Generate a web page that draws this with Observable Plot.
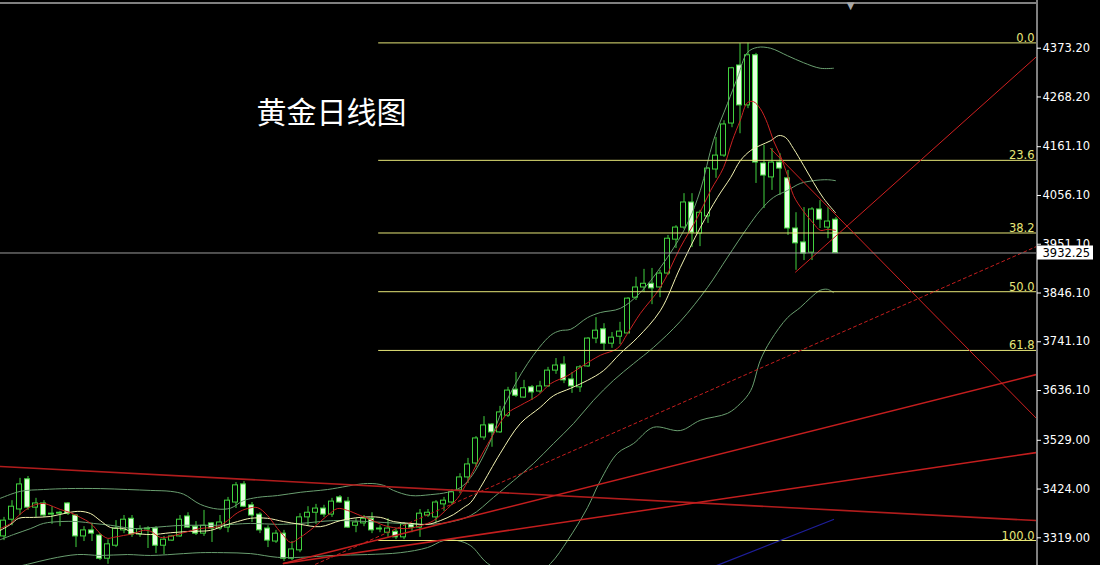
<!DOCTYPE html>
<html><head><meta charset="utf-8">
<script src="https://cdn.jsdelivr.net/npm/d3@7"></script>
<script src="https://cdn.jsdelivr.net/npm/@observablehq/plot@0.6"></script>
<style>html,body{margin:0;padding:0;background:#000;overflow:hidden}</style>
</head><body><div id="chart"></div>
<script>
// ---- daily gold candles (OHLC), oldest first ----
const opens  = [3322,3358,3380,3445,3384,3393,3369,3371,3393,3367,3322,3335,3324,3274,3302,3335,3360,3326,3337,3339,3302,3313,3322,3365,3343,3328,3350,3339,3341,3395,3434,3389,3369,3339,3311,3328,3274,3292,3363,3373,3382,3369,3406,3397,3345,3350,3360,3339,3330,3332,3320,3348,3341,3367,3363,3391,3395,3421,3449,3479,3535,3563,3546,3582,3638,3621,3643,3634,3645,3679,3692,3660,3643,3688,3748,3768,3737,3752,3759,3836,3858,3866,3858,3888,3961,3987,4041,3974,4011,4112,4142,4211,4336,4250,4358,4125,4095,4127,4093,3985,3955,3933,4026,3987,4004];
const highs  = [3363,3399,3447,3451,3404,3399,3386,3376,3395,3369,3343,3350,3328,3315,3356,3367,3367,3345,3343,3343,3322,3324,3367,3373,3354,3378,3352,3367,3406,3438,3440,3395,3373,3345,3335,3335,3311,3371,3386,3391,3389,3404,3410,3406,3360,3367,3373,3345,3360,3339,3352,3350,3380,3380,3399,3406,3423,3457,3490,3537,3580,3565,3602,3643,3675,3658,3647,3656,3686,3705,3709,3675,3690,3750,3793,3780,3761,3783,3836,3880,3897,3899,3895,3970,3991,4060,4060,4024,4116,4181,4217,4332,4383,4384,4362,4164,4157,4146,4110,4019,4030,4030,4045,4030,4009];
const lows   = [3313,3345,3367,3378,3363,3363,3348,3343,3367,3298,3311,3311,3270,3262,3298,3328,3320,3320,3296,3285,3283,3311,3320,3339,3324,3322,3309,3335,3330,3382,3384,3352,3328,3298,3307,3268,3270,3287,3345,3348,3363,3363,3393,3339,3330,3343,3328,3330,3320,3315,3315,3330,3320,3363,3352,3376,3389,3414,3436,3470,3529,3514,3544,3578,3621,3619,3615,3630,3643,3671,3651,3630,3632,3686,3737,3722,3727,3735,3759,3830,3847,3821,3836,3884,3942,3983,3944,3946,3996,4093,4138,4202,4189,4243,4082,4028,4067,4056,3970,3895,3916,3916,3985,3963,3931];
const closes = [3356,3386,3434,3384,3393,3367,3371,3373,3371,3322,3335,3328,3274,3305,3339,3358,3326,3337,3339,3302,3315,3322,3358,3341,3328,3345,3339,3352,3399,3432,3386,3367,3335,3313,3328,3274,3294,3363,3373,3382,3369,3397,3395,3341,3352,3360,3335,3337,3339,3320,3348,3341,3371,3373,3395,3399,3417,3449,3477,3533,3561,3546,3589,3636,3625,3641,3632,3645,3679,3690,3658,3645,3686,3748,3765,3737,3750,3763,3834,3858,3866,3856,3888,3963,3987,4041,3976,4019,4114,4142,4209,4330,4250,4358,4127,4099,4127,4114,3985,3953,3931,4026,4004,4000,3932];

// ---- indicator lines: [candle index, price] ----
const ma5 = [[-0.4,3339],[0.9,3350],[1.9,3367],[3,3382],[3.75,3389],[5,3393],[6.25,3386],[7.1,3380],[8.4,3373],[9.6,3363],[10.9,3350],[12.1,3328],[13,3318],[13.75,3320],[15,3324],[16.25,3328],[17.5,3335],[18.4,3333],[19.6,3320],[20.9,3322],[22.5,3330],[24.6,3339],[26.75,3343],[28,3356],[29.25,3373],[30.5,3382],[31.75,3384],[33,3367],[34.25,3339],[35,3324],[35.9,3309],[37.1,3320],[38.75,3341],[40.5,3367],[41.75,3382],[43,3378],[44.6,3367],[45.9,3358],[47.5,3346],[48.75,3341],[50.5,3339],[52.1,3345],[53.75,3356],[55.5,3382],[56.75,3404],[57.75,3432],[60.5,3520],[63,3587],[64.6,3604],[66.75,3625],[68.4,3651],[70.5,3668],[72.1,3686],[74.6,3712],[76.75,3727],[78,3759],[79.6,3802],[82.1,3858],[84.6,3944],[86.75,4009],[88.4,4067],[90,4116],[91.1,4174],[92.1,4218],[93,4256],[93.75,4258],[94.6,4243],[95.5,4211],[96.25,4174],[97.1,4142],[98,4099],[98.75,4056],[100,4022],[101.25,3996],[102.1,3981],[103,3983],[104,3981]];
const ma10 = [[-0.4,3335],[0.9,3348],[1.9,3361],[3.75,3363],[5.9,3365],[8,3373],[9.6,3376],[10.9,3371],[12.1,3356],[13.4,3341],[15,3339],[16.25,3330],[18.4,3326],[20.9,3330],[23.4,3333],[25.9,3335],[27.5,3345],[29.25,3354],[30.9,3361],[33,3361],[35,3354],[37.1,3348],[39.6,3343],[42.1,3356],[44.6,3363],[47.1,3363],[48.75,3354],[50.9,3350],[53,3348],[54.6,3356],[56.25,3369],[57.5,3384],[58.4,3395],[59.6,3427],[62.1,3501],[64.6,3565],[67.1,3600],[68.75,3625],[70.9,3641],[73,3658],[75,3679],[77.1,3716],[79.25,3750],[82.1,3808],[84.6,3901],[87.1,3987],[89.25,4052],[90.9,4095],[92.1,4131],[93.4,4153],[94.6,4164],[95.9,4174],[96.9,4185],[97.75,4181],[98.75,4157],[100,4121],[101.25,4084],[102.5,4050],[104,4019]];
const bbMid = [[-0.4,3315],[1.25,3326],[3.4,3339],[5,3350],[7.1,3354],[9.25,3354],[11.25,3350],[13.4,3346],[16.25,3339],[18.4,3341],[22.5,3346],[26.75,3346],[30.9,3350],[34.25,3348],[37.1,3350],[41.25,3356],[45.5,3354],[49.6,3350],[53,3348],[55.5,3352],[58.4,3367],[61.25,3406],[63.75,3442],[66.25,3479],[68.75,3522],[71.25,3565],[73.75,3615],[76.25,3658],[78.75,3694],[81.25,3729],[84.6,3785],[88,3858],[90.5,3923],[93,3987],[94.6,4024],[96.25,4052],[98,4067],[99.6,4082],[101.25,4088],[103,4090],[104,4088]];
const bbUp = [[-0.4,3404],[2.1,3419],[5,3423],[8,3425],[12.1,3425],[15.5,3423],[18.4,3421],[20.9,3419],[22.5,3413],[24.6,3391],[26.75,3381],[28.4,3383],[30,3399],[31.75,3406],[34.25,3410],[37.1,3417],[40.5,3423],[45.5,3436],[47.5,3432],[48.75,3421],[50.9,3410],[53.4,3412],[55.5,3417],[57.1,3427],[58.4,3449],[60.5,3513],[62.5,3600],[65.5,3694],[68.4,3755],[69.6,3765],[70.9,3768],[73,3793],[74.6,3804],[77.1,3813],[79.6,3847],[83,3923],[85.5,3996],[87.1,4067],[88.75,4175],[90.5,4254],[91.75,4310],[93,4364],[94.25,4375],[95.9,4373],[98,4357],[100,4342],[102.1,4330],[103.75,4330]];
const bbLow = [[-0.4,3249],[3,3262],[5.9,3274],[9.25,3283],[12.1,3281],[15.5,3283],[18.4,3281],[22.5,3285],[24.6,3287],[27.5,3287],[30.9,3285],[34.25,3277],[37.1,3277],[41.25,3281],[45.5,3283],[49.6,3287],[53,3298],[55,3313],[56.75,3313],[58.4,3302],[60.5,3264],[63.4,3238],[65.9,3231],[68.4,3264],[70.5,3313],[73,3384],[74.6,3442],[76.75,3501],[78.75,3522],[81.25,3557],[84.6,3550],[87.1,3572],[90.5,3587],[92.1,3608],[93.4,3636],[94.6,3701],[95.9,3744],[98,3793],[99.6,3815],[100.9,3836],[102.1,3852],[103,3854],[103.75,3847]];

// ---- drawn objects: trend lines [index, price] ----
const longTrend = [[-0.375,3472.5],[129.125,3356.2]];
const fanLow    = [[35,3263.7],[129.125,3502.6]];
const fanMid    = [[35,3263.7],[129.125,3670.6]];
const fanDash   = [[39,3262],[129.125,3946.2]];
const riseLine  = [[99,3891],[129.125,4355]];
const fallLine  = [[95.875,4157.2],[129.125,3576]];
const blueLine  = [[88.5,3255],[103.75,3358.4]];

// ---- Fibonacci retracement ----
const fibLevels = [0, 23.6, 38.2, 50.0, 61.8, 100.0];
const fibHigh = 4384.6, fibLow = 3313.2, fibStart = 46.9;

// ---- axis ----
const yTicks = [4373.20, 4268.20, 4161.10, 4056.10, 3951.10, 3846.10, 3741.10, 3636.10, 3529.00, 3424.00, 3319.00];
const lastPrice = 3932.25;
const title = "黄金日线图";

const xMax = 129.125, xMin = -0.375;
const candles = opens.map((o, i) => ({i, open: o, high: highs[i], low: lows[i], close: closes[i]}));
const fib = fibLevels.map(l => ({level: l, price: fibHigh - (fibHigh - fibLow) * l / 100}));

const GREEN = "#41d23f", PALE = "#e4ffde", BB = "#6a9f70", FIB = "#e6e678";
const ln = (data, o) => Plot.line(data, {x: d => d[0], y: d => d[1], clip: true, ...o});

const chart = Plot.plot({
  width: 1100, height: 565,
  marginTop: 0, marginBottom: 0, marginLeft: 0, marginRight: 64,
  style: {background: "#000", color: "#fff"},
  x: {domain: [xMin, xMax], axis: null},
  y: {domain: [3259.4, 4475.9]},
  marks: [
    // candles
    Plot.ruleX(candles, {x: "i", y1: "low", y2: "high", stroke: GREEN, strokeWidth: 1, dx: 0.5}),
    Plot.rect(candles, {x1: d => d.i - 0.5, x2: d => d.i + 0.5, y1: "open", y2: "close", insetLeft: 1.5, insetRight: 1.5,
      fill: d => d.close >= d.open ? "#000" : PALE, stroke: GREEN, strokeWidth: 1}),
    // indicators
    ln(bbUp,  {stroke: BB, strokeWidth: 1, curve: "catmull-rom"}),
    ln(bbMid, {stroke: BB, strokeWidth: 1, curve: "catmull-rom"}),
    ln(bbLow, {stroke: BB, strokeWidth: 1, curve: "catmull-rom"}),
    ln(ma10,  {stroke: "#f3f3b2", strokeWidth: 1, curve: "catmull-rom"}),
    ln(ma5,   {stroke: "#cc2222", strokeWidth: 1, curve: "catmull-rom"}),
    // fibonacci
    Plot.ruleY(fib, {y: "price", x1: fibStart, x2: xMax, stroke: FIB, strokeWidth: 1}),
    Plot.text(fib, {x: xMax, y: "price", text: d => d.level.toFixed(1), textAnchor: "end", lineAnchor: "bottom",
      dx: -2, dy: -1, fill: FIB, fontSize: 11.5, fontFamily: "DejaVu Sans"}),
    // trend lines
    ln(longTrend, {stroke: "#b01c1c", strokeWidth: 1.6}),
    ln(fanLow,  {stroke: "#c41e1e", strokeWidth: 1.5}),
    ln(fanMid,  {stroke: "#c41e1e", strokeWidth: 1.5}),
    ln(fanDash, {stroke: "#c41e1e", strokeWidth: 1, strokeDasharray: "3,3"}),
    ln(riseLine, {stroke: "#d02020", strokeWidth: 1}),
    ln(fallLine, {stroke: "#d02020", strokeWidth: 1}),
    ln(blueLine, {stroke: "#1e1e9a", strokeWidth: 1.3}),
    // current price line
    Plot.ruleY([lastPrice], {x1: xMin, x2: xMax, stroke: "#9c9c9c", strokeWidth: 1}),
    // frame
    Plot.ruleX([xMax], {stroke: "#fff", strokeWidth: 1, dx: 0.5}),
    Plot.ruleY([4470.5], {x1: xMin, x2: xMax, stroke: "#fff", strokeWidth: 1}),
    // axis
    Plot.axisY(yTicks, {anchor: "right", tickFormat: d => d.toFixed(2), tickSize: 4, tickPadding: 2,
      color: "#fff", fontSize: 11.5, fontFamily: "DejaVu Sans", label: null}),
    // price label
    Plot.rect([lastPrice], {x1: xMax + 0.125, x2: xMax + 7.125, y1: d => d - 15.1, y2: d => d + 15.1, fill: "#fff"}),
    Plot.text([lastPrice], {x: xMax, y: d => d, text: d => d.toFixed(2), textAnchor: "start", dx: 6,
      fill: "#000", fontSize: 11.5, fontFamily: "DejaVu Sans"}),
    // shift marker
    Plot.text(["▼"], {frameAnchor: "top-left", dx: 850, dy: 1, text: d => d, textAnchor: "middle", lineAnchor: "top",
      fill: "#a8a8a8", fontSize: 10, fontFamily: "DejaVu Sans"}),
    // title
    Plot.text([title], {frameAnchor: "top-left", dx: 256, dy: 113, text: d => d, textAnchor: "start", lineAnchor: "middle",
      fill: "#fff", fontSize: 30, fontFamily: "Noto Sans CJK SC"})
  ]
});
document.getElementById("chart").appendChild(chart);
</script>
</body></html>
